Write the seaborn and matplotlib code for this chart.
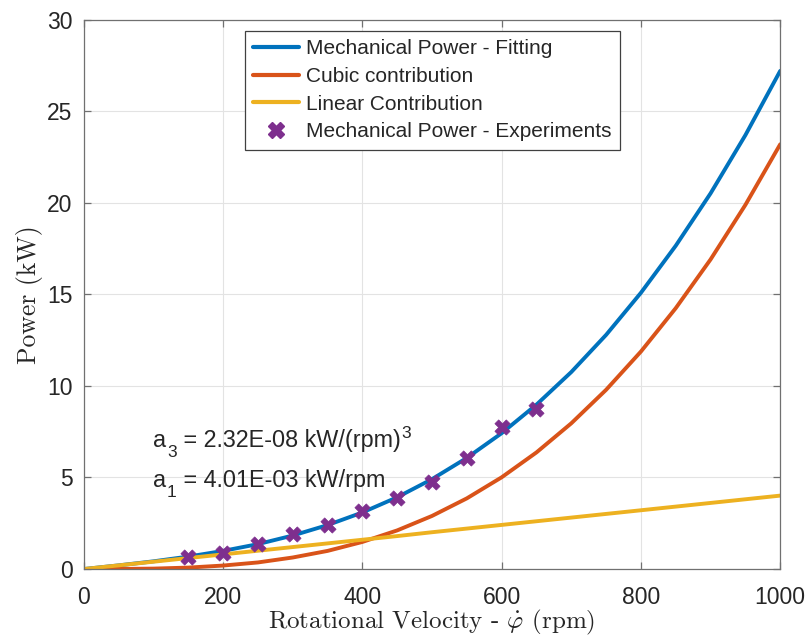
import numpy as np
import pandas as pd
import matplotlib
matplotlib.use("Agg")
import matplotlib.pyplot as plt
import seaborn as sns
from matplotlib.lines import Line2D

# ---- data ----
rpm = [0, 50, 100, 150, 200, 250, 300, 350, 400, 450, 500,
       550, 600, 650, 700, 750, 800, 850, 900, 950, 1000]
power_fit = [0.00, 0.20, 0.42, 0.68, 0.99, 1.36, 1.83, 2.40, 3.09, 3.92, 4.91,
             6.07, 7.42, 8.98, 10.76, 12.79, 15.09, 17.66, 20.52, 23.70, 27.21]
power_cubic = [0.00, 0.003, 0.023, 0.078, 0.19, 0.36, 0.63, 0.99, 1.48, 2.11, 2.90,
               3.86, 5.01, 6.37, 7.96, 9.79, 11.88, 14.25, 16.91, 19.89, 23.20]
power_linear = [0.00, 0.20, 0.40, 0.60, 0.80, 1.00, 1.20, 1.40, 1.60, 1.80, 2.01,
                2.21, 2.41, 2.61, 2.81, 3.01, 3.21, 3.41, 3.61, 3.81, 4.01]
exp_rpm = [150, 200, 250, 300, 350, 400, 450, 500, 550, 600, 650]
exp_power = [0.68, 0.90, 1.37, 1.92, 2.41, 3.15, 3.88, 4.78, 6.08, 7.78, 8.75]

series_names = ["Mechanical Power - Fitting", "Cubic contribution", "Linear Contribution"]
exp_name = "Mechanical Power - Experiments"
colors = ["#0072BD", "#D95319", "#EDB120"]
marker_color = "#7E2F8E"

df = pd.concat([
    pd.DataFrame({"rpm": rpm, "power": power_fit, "series": series_names[0]}),
    pd.DataFrame({"rpm": rpm, "power": power_cubic, "series": series_names[1]}),
    pd.DataFrame({"rpm": rpm, "power": power_linear, "series": series_names[2]}),
], ignore_index=True)
df_exp = pd.DataFrame({"rpm": exp_rpm, "power": exp_power})

sns.set_theme(style="white")
plt.rcParams["font.family"] = ["Liberation Sans", "DejaVu Sans"]
plt.rcParams["mathtext.fontset"] = "cm"
plt.rcParams["axes.unicode_minus"] = False

fig = plt.figure(figsize=(8.06, 6.39), dpi=100)
ax = fig.add_axes([0.104, 0.1095, 0.864, 0.8595])

sns.lineplot(data=df, x="rpm", y="power", hue="series", palette=colors,
             hue_order=series_names, linewidth=2.8, ax=ax, legend=False)
sns.scatterplot(data=df_exp, x="rpm", y="power", marker="X", s=120,
                color=marker_color, edgecolor=marker_color, linewidth=0.5, ax=ax, zorder=5)

ax.set_xlim(0, 1000)
ax.set_ylim(0, 30)
ax.set_xticks([0, 200, 400, 600, 800, 1000])
ax.set_yticks([0, 5, 10, 15, 20, 25, 30])
ax.grid(True, color="#e3e3e3", linewidth=0.8)
ax.set_axisbelow(True)
for sp in ax.spines.values():
    sp.set_color("#707070")
    sp.set_linewidth(0.9)
ax.tick_params(axis="both", direction="in", length=5, width=0.9, color="#707070",
               labelsize=16.5, labelcolor="#262626", top=True, right=True,
               bottom=True, left=True)
ax.tick_params(axis="x", pad=12.5)
ax.tick_params(axis="y", pad=8)

ax.set_xlabel(r"Rotational Velocity - $\dot{\varphi}$ (rpm)", fontfamily="cmr10",
              fontsize=18, color="#262626", labelpad=-1)
ax.set_ylabel("Power (kW)", fontfamily="cmr10", fontsize=18.5, color="#262626",
              labelpad=3)

handles = [Line2D([], [], color=c, lw=3.0) for c in colors]
handles.append(Line2D([], [], color=marker_color, marker="X", ls="none", markersize=11))
leg = ax.legend(handles, series_names + [exp_name], loc="upper center",
                bbox_to_anchor=(0.5007, 0.98), fontsize=15, frameon=True,
                fancybox=False, edgecolor="#404040", framealpha=1,
                handlelength=2.2, handletextpad=0.35, borderpad=0.4,
                labelspacing=0.42, borderaxespad=0)
leg.get_frame().set_linewidth(0.9)


def coef_text(x, y, sub, rest, sup=None):
    main_fs, small_fs = 16.8, 12.5
    t1 = ax.text(x, y, "a", fontsize=main_fs, color="#262626", va="baseline")
    t2 = ax.annotate(sub, xy=(1, 0), xycoords=t1, xytext=(0.8, -3.5),
                     textcoords="offset points", fontsize=small_fs,
                     color="#262626", va="baseline", ha="left")
    t3 = ax.annotate(rest, xy=(1, 0), xycoords=(t2, t1), xytext=(0, 0),
                     textcoords="offset points", fontsize=main_fs,
                     color="#262626", va="bottom", ha="left")
    if sup is not None:
        ax.annotate(sup, xy=(1, 1), xycoords=t3, xytext=(0.8, -3),
                    textcoords="offset points", fontsize=small_fs,
                    color="#262626", va="center", ha="left")


coef_text(99, 6.67, "3", " = 2.32E-08 kW/(rpm)", sup="3")
coef_text(99, 4.48, "1", " = 4.01E-03 kW/rpm")

fig.savefig("out.png", dpi=100)
